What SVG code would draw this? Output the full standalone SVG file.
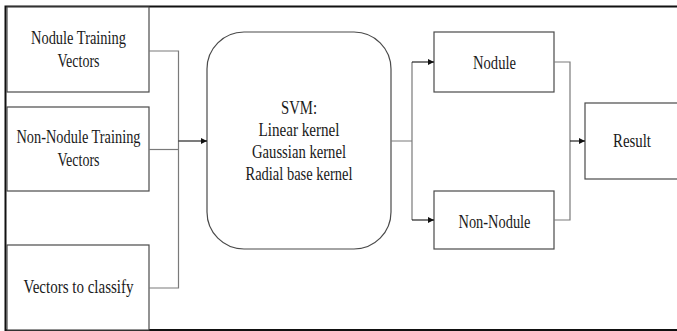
<svg xmlns="http://www.w3.org/2000/svg" width="677" height="331" viewBox="0 0 677 331">
  <style>
    .box { fill: #ffffff; stroke: #4a4a4a; stroke-width: 1.2; }
    .frame { fill: none; stroke: #111111; stroke-width: 2; }
    .t { font-family: 'Liberation Serif', 'DejaVu Serif', serif; font-size: 18px; fill: #1a1a1a; text-anchor: middle; }
    .wire { fill: none; stroke: #7a7a7a; stroke-width: 1.2; }
    .arr { fill: none; stroke: #111111; stroke-width: 1.1; marker-end: url(#ah); }
  </style>
  <defs>
    <marker id="ah" viewBox="0 0 10 10" refX="10" refY="5" markerWidth="6" markerHeight="6" markerUnits="userSpaceOnUse" orient="auto">
      <path d="M0,0 L10,5 L0,10 z" fill="#111111"/>
    </marker>
  </defs>
  <rect width="677" height="331" fill="#ffffff"/>
  <g id="frame">
    <path class="frame" d="M677,6.5 H5.5 V330 H677"/>
  </g>

  <g id="n-nodule-training">
    <rect class="box" x="7" y="7" width="142" height="85"/>
    <text class="t" x="78.5" y="44" textLength="95" lengthAdjust="spacingAndGlyphs">Nodule Training</text>
    <text class="t" x="78.5" y="67" textLength="42" lengthAdjust="spacingAndGlyphs">Vectors</text>
  </g>
  <g id="n-nonnodule-training">
    <rect class="box" x="7" y="107" width="142" height="84"/>
    <text class="t" x="78.5" y="143" textLength="124" lengthAdjust="spacingAndGlyphs">Non-Nodule Training</text>
    <text class="t" x="78.5" y="166" textLength="42" lengthAdjust="spacingAndGlyphs">Vectors</text>
  </g>
  <g id="n-vectors-classify">
    <rect class="box" x="7" y="245" width="142" height="85"/>
    <text class="t" x="78.5" y="293" textLength="110" lengthAdjust="spacingAndGlyphs">Vectors to classify</text>
  </g>
  <g id="n-svm">
    <rect class="box" x="207" y="32" width="184" height="217" rx="37" ry="37"/>
    <text class="t" x="299" y="114" textLength="36" lengthAdjust="spacingAndGlyphs">SVM:</text>
    <text class="t" x="299" y="136" textLength="81" lengthAdjust="spacingAndGlyphs">Linear kernel</text>
    <text class="t" x="299" y="158" textLength="94" lengthAdjust="spacingAndGlyphs">Gaussian kernel</text>
    <text class="t" x="299" y="180" textLength="107" lengthAdjust="spacingAndGlyphs">Radial base kernel</text>
  </g>
  <g id="n-nodule">
    <rect class="box" x="434" y="32" width="120" height="60"/>
    <text class="t" x="494.5" y="69" textLength="43" lengthAdjust="spacingAndGlyphs">Nodule</text>
  </g>
  <g id="n-nonnodule">
    <rect class="box" x="434" y="191" width="120" height="58"/>
    <text class="t" x="494.5" y="228" textLength="72" lengthAdjust="spacingAndGlyphs">Non-Nodule</text>
  </g>
  <g id="n-result">
    <rect class="box" x="585" y="103" width="95" height="76"/>
    <text class="t" x="632" y="147" textLength="38" lengthAdjust="spacingAndGlyphs">Result</text>
  </g>

  <g id="connectors">
    <path class="wire" d="M149,51 H178.5 V288 H149"/>
    <path class="wire" d="M149,149.5 H178.5"/>
    <path class="arr" d="M178.5,141 H207"/>
    <path class="wire" d="M391,141 H412 M412,62 V220"/>
    <path class="arr" d="M412,62 H434"/>
    <path class="arr" d="M412,220 H434"/>
    <path class="wire" d="M554,62 H570 V220 H554"/>
    <path class="arr" d="M570,141 H585"/>
  </g>
</svg>
